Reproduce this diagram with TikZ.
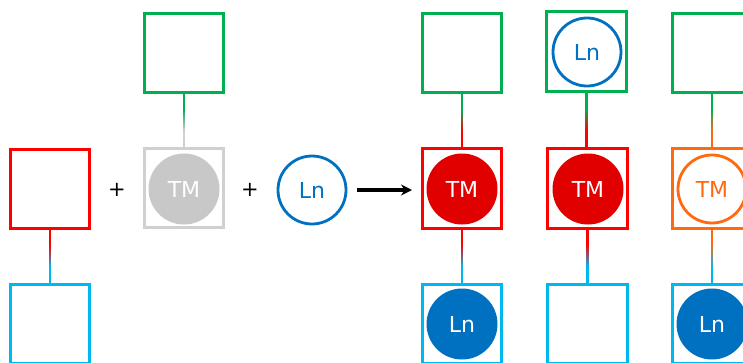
\documentclass[tikz,border=0pt]{standalone}
\usepackage{fontspec}
\setmainfont{DejaVu Sans}
\usetikzlibrary{arrows.meta,calc}
\definecolor{cred}{HTML}{FF0000}
\definecolor{cdred}{HTML}{E00000}
\definecolor{cgreen}{HTML}{00B050}
\definecolor{ccyan}{HTML}{00B8F0}
\definecolor{cblue}{HTML}{0070C0}
\definecolor{corange}{HTML}{FF6A10}
\definecolor{cgray}{HTML}{C8C8C8}
\definecolor{cgbox}{HTML}{D0D0D0}
\begin{document}
\begin{tikzpicture}[x=1pt,y=-1pt,
  box/.style={draw, line width=3pt, rectangle, minimum size=79.5pt, inner sep=0pt, line join=miter},
  ball/.style={circle, minimum size=71pt, inner sep=0pt, font=\fontsize{22}{26}\selectfont},
  oball/.style={ball, draw, line width=2.8pt, minimum size=68pt},
  plus/.style={font=\fontsize{21}{24}\selectfont, inner sep=0pt}]
\useasboundingbox (0,0) rectangle (743,362);
\clip (0,0) rectangle (743,362);
\newcommand{\conn}[4]{%
  \coordinate (cs) at (#1.south);
  \coordinate (ce) at (#1.south |- #2.north);
  \foreach \i in {0,...,19}{
    \pgfmathsetmacro{\pa}{\i/20}
    \pgfmathsetmacro{\pb}{(\i+1)/20+0.01}
    \pgfmathsetmacro{\pc}{min(100,max(0,(\i/19-0.28)/0.44*100))}
    \draw[line width=2.8pt, draw=#4!\pc!#3] ($(cs)!\pa!(ce)$) -- ($(cs)!\pb!(ce)$);
  }}
% left column
\node[box, draw=cred] (l1) at (50,189) {};
\node[box, draw=ccyan] (l2) at (50,324) {};
\conn{l1}{l2}{cred}{ccyan}
\node[plus] (p1) at (117,190) {+};
% middle
\node[box, draw=cgreen] (m1) at (184,53) {};
\node[box, draw=cgbox] (m2) at (184,188) {};
\conn{m1}{m2}{cgreen}{cgbox}
\node[ball, fill=cgray, text=white] (m3) at (184,189) {TM};
\node[plus] (p2) at (250,190) {+};
\node[oball, draw=cblue, text=cblue] (ln) at (312,190) {Ln};
\coordinate (a1) at (357,190);
\coordinate (a2) at (412,190);
\draw[line width=3.2pt, -{Stealth[length=11pt,width=11pt]}] (a1) -- (a2);
% column 1
\node[box, draw=cgreen] (c1a) at (462,53) {};
\node[box, draw=cred] (c1b) at (462,188.5) {};
\node[box, draw=ccyan] (c1c) at (462,324) {};
\conn{c1a}{c1b}{cgreen}{cred}
\conn{c1b}{c1c}{cred}{ccyan}
\node[ball, fill=cdred, text=white] (c1t) at (462,189) {TM};
\node[ball, fill=cblue, text=white] (c1l) at (462,324) {Ln};
% column 2
\node[box, draw=cgreen] (c2a) at (586.5,51.5) {};
\node[box, draw=cred] (c2b) at (587.5,188.5) {};
\node[box, draw=ccyan] (c2c) at (587.5,324) {};
\conn{c2a}{c2b}{cgreen}{cred}
\conn{c2b}{c2c}{cred}{ccyan}
\node[oball, draw=cblue, text=cblue] (c2l) at (587,52) {Ln};
\node[ball, fill=cdred, text=white] (c2t) at (588,189) {TM};
% column 3
\node[box, draw=cgreen] (c3a) at (712,53) {};
\node[box, draw=corange] (c3b) at (712,188.5) {};
\node[box, draw=ccyan] (c3c) at (712,324) {};
\conn{c3a}{c3b}{cgreen}{corange}
\conn{c3b}{c3c}{corange}{ccyan}
\node[oball, draw=corange, text=corange] (c3t) at (712,189) {TM};
\node[ball, fill=cblue, text=white] (c3l) at (712,324) {Ln};
\end{tikzpicture}
\end{document}
